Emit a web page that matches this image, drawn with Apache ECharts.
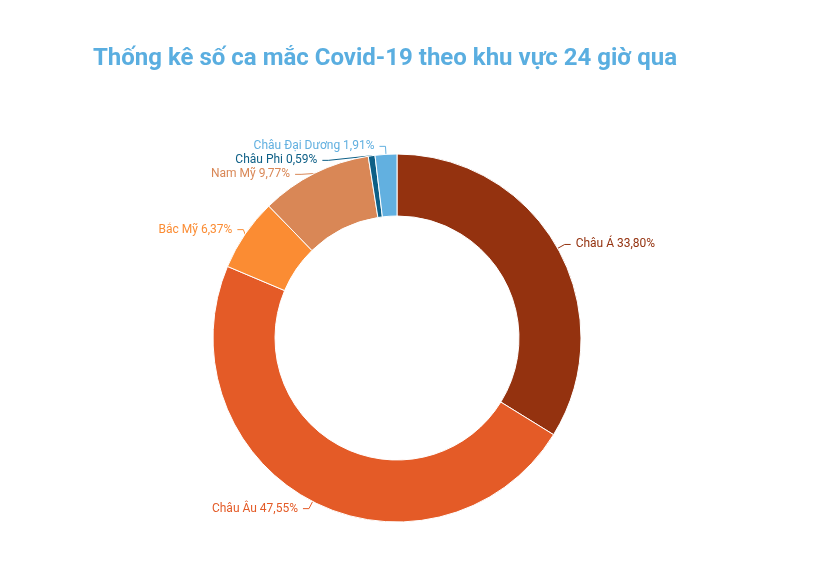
<!DOCTYPE html>
<html><head><meta charset="utf-8">
<script src="https://cdn.jsdelivr.net/npm/echarts@6/dist/echarts.min.js"></script>
<style>html,body{margin:0;background:#fff}#c{width:816px;height:580px}</style>
</head><body><div id="c"></div>
<script>
const categories = ["Châu Á","Châu Âu","Bắc Mỹ","Nam Mỹ","Châu Phi","Châu Đại Dương"];
const values = [33.80,47.55,6.37,9.77,0.59,1.91];
const colors = ["#94320f","#e45b27","#fb8c33","#d98756","#0d5f86","#62b0e0"];
const chart = echarts.init(document.getElementById('c'));
chart.setOption({
  title:{text:"Thống kê số ca mắc Covid-19 theo khu vực 24 giờ qua",left:88,top:42,
    textStyle:{color:"#5aaee0",fontSize:24,fontWeight:"bold",fontFamily:"Roboto"}},
  series:[{type:"pie",center:[397,338],radius:[122,184],startAngle:90,clockwise:true,
    itemStyle:{borderColor:"#fff",borderWidth:1},
    label:{fontFamily:"Roboto",fontSize:12,
      formatter:p=>p.name+" "+p.value.toFixed(2).replace('.',',')+"%"},
    labelLine:{length:8,length2:6},
    data:categories.map((n,i)=>({name:n,value:values[i],
      itemStyle:{color:colors[i]},label:{color:colors[i]},labelLine:{lineStyle:{color:colors[i]}}}))
  }]
});
</script></body></html>
